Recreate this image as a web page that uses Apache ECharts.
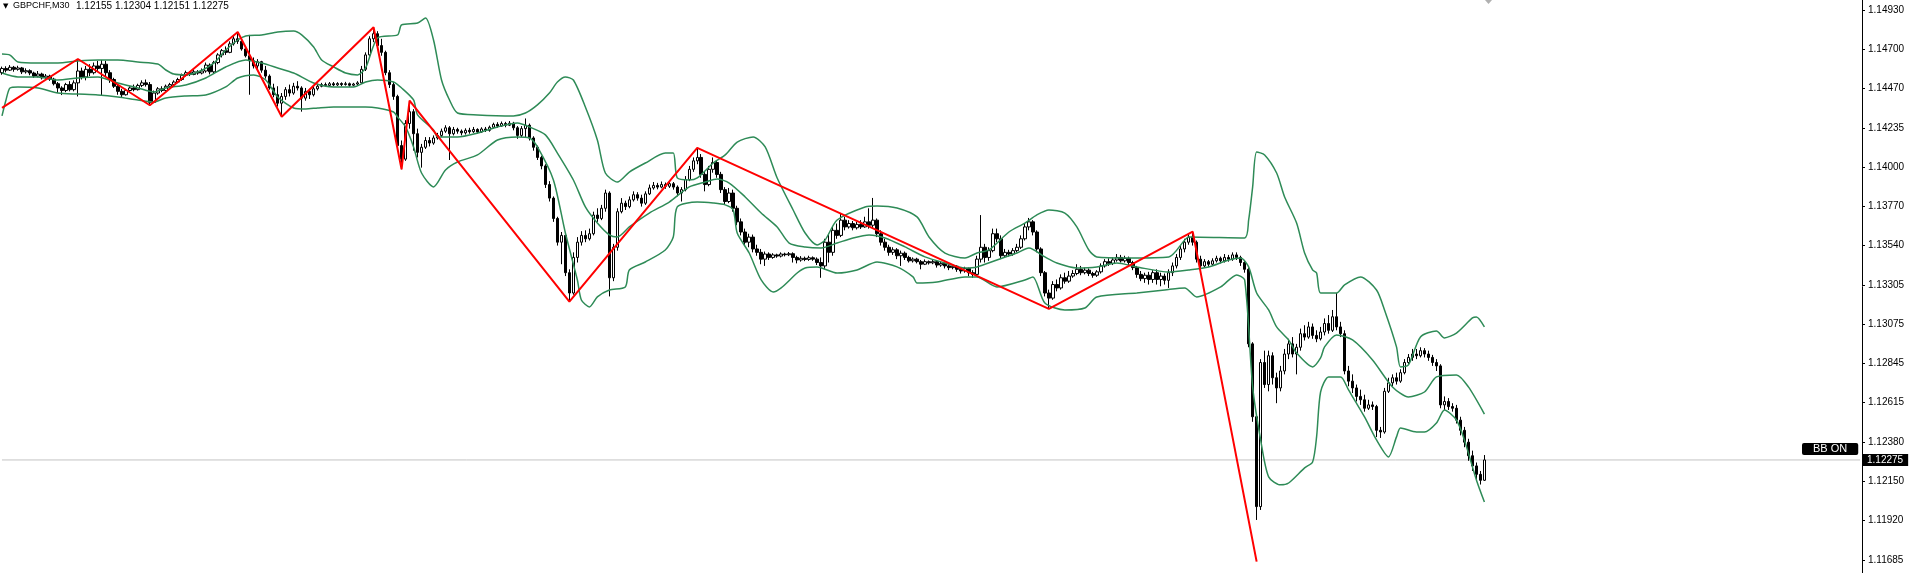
<!DOCTYPE html>
<html>
<head>
<meta charset="utf-8">
<script src="https://cdn.jsdelivr.net/npm/echarts@6/dist/echarts.min.js"></script>
<style>
html,body{margin:0;padding:0;background:#fff;}
#chart{width:1912px;height:573px;}
</style>
</head>
<body>
<div id="chart"></div>
<script>
// ---------- data ----------
const headerSymbol = 'GBPCHF,M30';
const headerOHLC = '1.12155 1.12304 1.12151 1.12275';
const lastPrice = 1.12275;
const indicatorBadge = 'BB ON';
const slotCount = 466;
const tickValues = [1.11685, 1.11920, 1.12150, 1.12380, 1.12615, 1.12845, 1.13075, 1.13305, 1.13540, 1.13770, 1.14000, 1.14235, 1.14470, 1.14700, 1.14930];

// [open, close, low, high]
const candles = [
[1.14560,1.14585,1.14548,1.14596],[1.14585,1.14575,1.14562,1.14598],[1.14575,1.14592,1.14570,1.14605],[1.14592,1.14580,1.14566,1.14600],[1.14580,1.14588,1.14572,1.14601],
[1.14588,1.14565,1.14552,1.14594],[1.14565,1.14572,1.14555,1.14586],[1.14572,1.14558,1.14545,1.14580],[1.14558,1.14540,1.14530,1.14566],[1.14540,1.14552,1.14532,1.14570],
[1.14552,1.14530,1.14520,1.14560],[1.14530,1.14540,1.14518,1.14552],[1.14540,1.14522,1.14512,1.14548],[1.14522,1.14495,1.14485,1.14530],[1.14495,1.14470,1.14440,1.14505],
[1.14470,1.14455,1.14428,1.14480],[1.14455,1.14490,1.14445,1.14500],[1.14490,1.14460,1.14450,1.14510],[1.14460,1.14500,1.14450,1.14515],[1.14500,1.14570,1.14420,1.14641],
[1.14570,1.14535,1.14520,1.14590],[1.14535,1.14580,1.14515,1.14600],[1.14580,1.14560,1.14540,1.14610],[1.14560,1.14600,1.14550,1.14620],[1.14600,1.14585,1.14565,1.14630],
[1.14585,1.14610,1.14425,1.14635],[1.14610,1.14560,1.14540,1.14630],[1.14560,1.14520,1.14500,1.14575],[1.14520,1.14480,1.14470,1.14530],[1.14480,1.14450,1.14430,1.14490],
[1.14450,1.14430,1.14415,1.14465],[1.14430,1.14455,1.14425,1.14465],[1.14455,1.14470,1.14445,1.14480],[1.14470,1.14460,1.14450,1.14490],[1.14460,1.14485,1.14455,1.14495],
[1.14485,1.14500,1.14475,1.14515],[1.14500,1.14490,1.14478,1.14520],[1.14490,1.14385,1.14368,1.14505],[1.14385,1.14440,1.14380,1.14455],[1.14440,1.14465,1.14430,1.14475],
[1.14465,1.14455,1.14445,1.14480],[1.14455,1.14480,1.14450,1.14490],[1.14480,1.14490,1.14470,1.14500],[1.14490,1.14505,1.14485,1.14515],[1.14505,1.14520,1.14498,1.14530],
[1.14520,1.14545,1.14512,1.14555],[1.14545,1.14560,1.14538,1.14572],[1.14560,1.14550,1.14540,1.14570],[1.14550,1.14565,1.14545,1.14578],[1.14565,1.14558,1.14548,1.14575],
[1.14558,1.14570,1.14550,1.14585],[1.14570,1.14605,1.14560,1.14620],[1.14605,1.14565,1.14550,1.14615],[1.14565,1.14620,1.14555,1.14630],[1.14620,1.14665,1.14610,1.14675],
[1.14665,1.14690,1.14650,1.14700],[1.14690,1.14680,1.14665,1.14715],[1.14680,1.14730,1.14675,1.14745],[1.14730,1.14760,1.14720,1.14780],[1.14760,1.14745,1.14730,1.14800],
[1.14745,1.14700,1.14690,1.14760],[1.14700,1.14660,1.14650,1.14715],[1.14660,1.14630,1.14430,1.14783],[1.14630,1.14600,1.14585,1.14650],[1.14600,1.14625,1.14580,1.14640],
[1.14625,1.14575,1.14560,1.14630],[1.14575,1.14540,1.14525,1.14600],[1.14540,1.14470,1.14460,1.14550],[1.14470,1.14430,1.14415,1.14495],[1.14430,1.14380,1.14360,1.14480],
[1.14380,1.14420,1.14300,1.14440],[1.14420,1.14460,1.14400,1.14475],[1.14460,1.14440,1.14420,1.14490],[1.14440,1.14480,1.14430,1.14500],[1.14480,1.14470,1.14455,1.14510],
[1.14470,1.14410,1.14330,1.14480],[1.14410,1.14450,1.14395,1.14470],[1.14450,1.14430,1.14405,1.14465],[1.14430,1.14465,1.14420,1.14480],[1.14465,1.14480,1.14455,1.14495],
[1.14480,1.14490,1.14474,1.14500],[1.14490,1.14485,1.14478,1.14502],[1.14485,1.14495,1.14480,1.14505],[1.14495,1.14488,1.14480,1.14505],[1.14488,1.14496,1.14482,1.14504],
[1.14496,1.14490,1.14480,1.14503],[1.14490,1.14495,1.14484,1.14506],[1.14495,1.14486,1.14478,1.14502],[1.14486,1.14493,1.14480,1.14500],[1.14493,1.14500,1.14485,1.14510],
[1.14500,1.14580,1.14495,1.14600],[1.14580,1.14665,1.14570,1.14680],[1.14665,1.14760,1.14650,1.14775],[1.14760,1.14790,1.14740,1.14828],[1.14790,1.14720,1.14700,1.14805],
[1.14720,1.14680,1.14660,1.14760],[1.14680,1.14560,1.14545,1.14690],[1.14560,1.14490,1.14470,1.14575],[1.14490,1.14420,1.14400,1.14505],[1.14420,1.14130,1.14110,1.14430],
[1.14130,1.14050,1.13990,1.14160],[1.14050,1.14260,1.14040,1.14280],[1.14260,1.14330,1.14230,1.14395],[1.14330,1.14200,1.14100,1.14345],[1.14200,1.14090,1.14060,1.14230],
[1.14090,1.14120,1.14000,1.14140],[1.14120,1.14160,1.14110,1.14180],[1.14160,1.14145,1.14125,1.14180],[1.14145,1.14175,1.14135,1.14190],[1.14175,1.14190,1.14165,1.14205],
[1.14190,1.14215,1.14180,1.14230],[1.14215,1.14235,1.14205,1.14250],[1.14235,1.14200,1.14045,1.14245],[1.14200,1.14225,1.14190,1.14240],[1.14225,1.14215,1.14200,1.14235],
[1.14215,1.14205,1.14190,1.14225],[1.14205,1.14220,1.14195,1.14232],[1.14220,1.14212,1.14200,1.14235],[1.14212,1.14225,1.14205,1.14240],[1.14225,1.14210,1.14200,1.14232],
[1.14210,1.14228,1.14205,1.14238],[1.14228,1.14220,1.14210,1.14240],[1.14220,1.14238,1.14212,1.14248],[1.14238,1.14255,1.14230,1.14265],[1.14255,1.14245,1.14235,1.14268],
[1.14245,1.14260,1.14240,1.14272],[1.14260,1.14250,1.14238,1.14270],[1.14250,1.14262,1.14245,1.14275],[1.14262,1.14235,1.14220,1.14270],[1.14235,1.14190,1.14170,1.14245],
[1.14190,1.14230,1.14180,1.14245],[1.14230,1.14250,1.14175,1.14290],[1.14250,1.14175,1.14160,1.14260],[1.14175,1.14120,1.14100,1.14185],[1.14120,1.14060,1.14045,1.14130],
[1.14060,1.14010,1.13990,1.14070],[1.14010,1.13900,1.13880,1.14020],[1.13900,1.13820,1.13800,1.13920],[1.13820,1.13700,1.13680,1.13830],[1.13700,1.13560,1.13540,1.13710],
[1.13560,1.13600,1.13430,1.13620],[1.13600,1.13380,1.13360,1.13610],[1.13380,1.13260,1.13209,1.13400],[1.13260,1.13470,1.13250,1.13500],[1.13470,1.13560,1.13440,1.13590],
[1.13560,1.13600,1.13540,1.13625],[1.13600,1.13580,1.13560,1.13630],[1.13580,1.13610,1.13570,1.13640],[1.13610,1.13720,1.13600,1.13740],[1.13720,1.13700,1.13680,1.13760],
[1.13700,1.13760,1.13690,1.13780],[1.13760,1.13850,1.13740,1.13870],[1.13850,1.13350,1.13240,1.13860],[1.13350,1.13530,1.13330,1.13550],[1.13530,1.13740,1.13510,1.13760],
[1.13740,1.13790,1.13730,1.13820],[1.13790,1.13770,1.13750,1.13805],[1.13770,1.13810,1.13760,1.13830],[1.13810,1.13840,1.13800,1.13860],[1.13840,1.13820,1.13805,1.13855],
[1.13820,1.13790,1.13770,1.13840],[1.13790,1.13845,1.13780,1.13860],[1.13845,1.13880,1.13838,1.13900],[1.13880,1.13895,1.13870,1.13915],[1.13895,1.13885,1.13872,1.13910],
[1.13885,1.13900,1.13878,1.13918],[1.13900,1.13890,1.13875,1.13912],[1.13890,1.13905,1.13880,1.13920],[1.13905,1.13885,1.13870,1.13915],[1.13885,1.13850,1.13830,1.13895],
[1.13850,1.13870,1.13800,1.13885],[1.13870,1.13930,1.13860,1.13950],[1.13930,1.13990,1.13920,1.14010],[1.13990,1.14040,1.13975,1.14060],[1.14040,1.14060,1.14020,1.14116],
[1.14060,1.13960,1.13940,1.14080],[1.13960,1.13900,1.13860,1.13980],[1.13900,1.13990,1.13890,1.14010],[1.13990,1.14030,1.13970,1.14060],[1.14030,1.13960,1.13940,1.14040],
[1.13960,1.13870,1.13850,1.13975],[1.13870,1.13800,1.13780,1.13885],[1.13800,1.13850,1.13790,1.13880],[1.13850,1.13760,1.13740,1.13870],[1.13760,1.13680,1.13660,1.13775],
[1.13680,1.13620,1.13600,1.13700],[1.13620,1.13560,1.13540,1.13640],[1.13560,1.13590,1.13530,1.13610],[1.13590,1.13520,1.13500,1.13605],[1.13520,1.13500,1.13480,1.13545],
[1.13500,1.13460,1.13430,1.13520],[1.13460,1.13490,1.13420,1.13505],[1.13490,1.13470,1.13455,1.13500],[1.13470,1.13485,1.13462,1.13495],[1.13485,1.13478,1.13468,1.13492],
[1.13478,1.13490,1.13470,1.13500],[1.13490,1.13486,1.13476,1.13498],[1.13486,1.13492,1.13478,1.13502],[1.13492,1.13470,1.13440,1.13500],[1.13470,1.13455,1.13435,1.13480],
[1.13455,1.13465,1.13445,1.13478],[1.13465,1.13458,1.13448,1.13475],[1.13458,1.13468,1.13450,1.13480],[1.13468,1.13460,1.13450,1.13476],[1.13460,1.13440,1.13425,1.13470],
[1.13440,1.13420,1.13350,1.13470],[1.13420,1.13560,1.13400,1.13580],[1.13560,1.13500,1.13440,1.13610],[1.13500,1.13630,1.13480,1.13650],[1.13630,1.13600,1.13580,1.13670],
[1.13600,1.13690,1.13590,1.13732],[1.13690,1.13650,1.13630,1.13710],[1.13650,1.13670,1.13640,1.13690],[1.13670,1.13645,1.13630,1.13685],[1.13645,1.13665,1.13635,1.13680],
[1.13665,1.13650,1.13638,1.13690],[1.13650,1.13680,1.13645,1.13710],[1.13680,1.13660,1.13640,1.13760],[1.13660,1.13690,1.13640,1.13821],[1.13690,1.13610,1.13590,1.13700],
[1.13610,1.13560,1.13540,1.13630],[1.13560,1.13530,1.13510,1.13580],[1.13530,1.13500,1.13480,1.13545],[1.13500,1.13515,1.13485,1.13530],[1.13515,1.13480,1.13460,1.13525],
[1.13480,1.13495,1.13420,1.13510],[1.13495,1.13470,1.13455,1.13505],[1.13470,1.13450,1.13440,1.13480],[1.13450,1.13460,1.13440,1.13470],[1.13460,1.13445,1.13435,1.13468],
[1.13445,1.13430,1.13400,1.13455],[1.13430,1.13445,1.13425,1.13458],[1.13445,1.13438,1.13428,1.13452],[1.13438,1.13445,1.13430,1.13455],[1.13445,1.13425,1.13410,1.13450],
[1.13425,1.13435,1.13415,1.13448],[1.13435,1.13420,1.13405,1.13440],[1.13420,1.13410,1.13395,1.13430],[1.13410,1.13418,1.13400,1.13430],[1.13418,1.13400,1.13385,1.13425],
[1.13400,1.13390,1.13375,1.13410],[1.13390,1.13405,1.13380,1.13415],[1.13405,1.13380,1.13360,1.13410],[1.13380,1.13370,1.13350,1.13395],[1.13370,1.13460,1.13360,1.13480],
[1.13460,1.13530,1.13440,1.13720],[1.13530,1.13470,1.13440,1.13550],[1.13470,1.13510,1.13450,1.13530],[1.13510,1.13610,1.13500,1.13640],[1.13610,1.13580,1.13560,1.13640],
[1.13580,1.13480,1.13460,1.13600],[1.13480,1.13500,1.13470,1.13520],[1.13500,1.13490,1.13475,1.13515],[1.13490,1.13510,1.13480,1.13525],[1.13510,1.13530,1.13500,1.13550],
[1.13530,1.13580,1.13520,1.13600],[1.13580,1.13650,1.13570,1.13670],[1.13650,1.13680,1.13630,1.13703],[1.13680,1.13620,1.13600,1.13690],[1.13620,1.13520,1.13500,1.13630],
[1.13520,1.13380,1.13360,1.13530],[1.13380,1.13260,1.13240,1.13390],[1.13260,1.13230,1.13166,1.13280],[1.13230,1.13310,1.13220,1.13330],[1.13310,1.13290,1.13270,1.13340],
[1.13290,1.13350,1.13280,1.13370],[1.13350,1.13330,1.13315,1.13380],[1.13330,1.13360,1.13320,1.13390],[1.13360,1.13375,1.13350,1.13395],[1.13375,1.13400,1.13365,1.13430],
[1.13400,1.13380,1.13365,1.13420],[1.13380,1.13395,1.13370,1.13410],[1.13395,1.13375,1.13360,1.13405],[1.13375,1.13365,1.13350,1.13385],[1.13365,1.13385,1.13355,1.13395],
[1.13385,1.13420,1.13375,1.13435],[1.13420,1.13445,1.13410,1.13460],[1.13445,1.13435,1.13420,1.13465],[1.13435,1.13455,1.13425,1.13470],[1.13455,1.13470,1.13445,1.13490],
[1.13470,1.13450,1.13440,1.13485],[1.13450,1.13465,1.13440,1.13480],[1.13465,1.13440,1.13420,1.13475],[1.13440,1.13410,1.13395,1.13450],[1.13410,1.13370,1.13350,1.13420],
[1.13370,1.13345,1.13330,1.13390],[1.13345,1.13365,1.13320,1.13380],[1.13365,1.13340,1.13310,1.13385],[1.13340,1.13380,1.13320,1.13395],[1.13380,1.13340,1.13310,1.13400],
[1.13340,1.13360,1.13300,1.13380],[1.13360,1.13335,1.13310,1.13375],[1.13335,1.13380,1.13290,1.13400],[1.13380,1.13420,1.13360,1.13440],[1.13420,1.13470,1.13405,1.13490],
[1.13470,1.13520,1.13455,1.13540],[1.13520,1.13560,1.13500,1.13580],[1.13560,1.13590,1.13545,1.13610],[1.13590,1.13560,1.13540,1.13622],[1.13560,1.13460,1.13440,1.13570],
[1.13460,1.13420,1.13400,1.13480],[1.13420,1.13445,1.13410,1.13460],[1.13445,1.13430,1.13415,1.13455],[1.13430,1.13450,1.13420,1.13465],[1.13450,1.13465,1.13440,1.13480],
[1.13465,1.13450,1.13435,1.13475],[1.13450,1.13470,1.13440,1.13490],[1.13470,1.13460,1.13445,1.13485],[1.13460,1.13485,1.13450,1.13500],[1.13485,1.13470,1.13455,1.13500],
[1.13470,1.13440,1.13420,1.13480],[1.13440,1.13400,1.13380,1.13450],[1.13400,1.12960,1.12940,1.13410],[1.12960,1.12530,1.12500,1.12970],[1.12530,1.12000,1.11921,1.12540],
[1.12000,1.12850,1.11980,1.12870],[1.12850,1.12720,1.12700,1.12920],[1.12720,1.12890,1.12680,1.12920],[1.12890,1.12760,1.12720,1.12910],[1.12760,1.12700,1.12610,1.12790],
[1.12700,1.12800,1.12680,1.12830],[1.12800,1.12900,1.12780,1.12930],[1.12900,1.12960,1.12870,1.12990],[1.12960,1.12900,1.12880,1.13000],[1.12900,1.12940,1.12780,1.12960],
[1.12940,1.13020,1.12920,1.13050],[1.13020,1.13000,1.12980,1.13070],[1.13000,1.13060,1.12990,1.13090],[1.13060,1.13010,1.12990,1.13080],[1.13010,1.12990,1.12970,1.13040],
[1.12990,1.13030,1.12980,1.13060],[1.13030,1.13080,1.13010,1.13110],[1.13080,1.13040,1.13020,1.13130],[1.13040,1.13120,1.13030,1.13160],[1.13120,1.13060,1.13040,1.13260],
[1.13060,1.13020,1.13000,1.13090],[1.13020,1.12800,1.12780,1.13040],[1.12800,1.12740,1.12710,1.12830],[1.12740,1.12700,1.12670,1.12780],[1.12700,1.12650,1.12620,1.12720],
[1.12650,1.12630,1.12600,1.12690],[1.12630,1.12580,1.12560,1.12660],[1.12580,1.12600,1.12570,1.12630],[1.12600,1.12590,1.12570,1.12620],[1.12590,1.12450,1.12410,1.12600],
[1.12450,1.12440,1.12405,1.12470],[1.12440,1.12680,1.12430,1.12700],[1.12680,1.12730,1.12670,1.12760],[1.12730,1.12760,1.12710,1.12780],[1.12760,1.12740,1.12720,1.12790],
[1.12740,1.12790,1.12730,1.12810],[1.12790,1.12850,1.12780,1.12870],[1.12850,1.12880,1.12840,1.12900],[1.12880,1.12900,1.12860,1.12930],[1.12900,1.12890,1.12870,1.12930],
[1.12890,1.12920,1.12880,1.12940],[1.12920,1.12900,1.12880,1.12935],[1.12900,1.12880,1.12860,1.12920],[1.12880,1.12850,1.12830,1.12895],[1.12850,1.12830,1.12800,1.12870],
[1.12830,1.12600,1.12580,1.12840],[1.12600,1.12620,1.12570,1.12650],[1.12620,1.12590,1.12570,1.12640],[1.12590,1.12580,1.12560,1.12610],[1.12580,1.12510,1.12490,1.12600],
[1.12510,1.12450,1.12420,1.12530],[1.12450,1.12380,1.12350,1.12470],[1.12380,1.12300,1.12270,1.12400],[1.12300,1.12240,1.12210,1.12330],[1.12240,1.12190,1.12150,1.12260],
[1.12190,1.12155,1.12130,1.12210],[1.12155,1.12275,1.12151,1.12304]
];

// Bollinger Bands: [bar index, price]
const bbUpper = [
[0,1.14670],[2,1.14664],[4,1.14623],[9,1.14617],[14,1.14617],[19,1.14629],[24,1.14635],[29,1.14635],[34,1.14623],[39,1.14611],
[41,1.14576],[43,1.14552],[46,1.14547],[49,1.14564],[53,1.14617],[56,1.14694],[59,1.14753],[61,1.14777],[65,1.14783],[69,1.14800],
[73,1.14806],[75,1.14783],[78,1.14712],[80,1.14635],[83,1.14594],[86,1.14558],[89,1.14547],[91,1.14588],[94,1.14765],[99,1.14783],
[100,1.14842],[104,1.14853],[106,1.14883],[108,1.14753],[110,1.14517],[112,1.14399],[114,1.14322],[119,1.14311],[128,1.14305],[131,1.14322],
[134,1.14370],[137,1.14440],[139,1.14505],[141,1.14535],[143,1.14517],[146,1.14358],[149,1.14163],[151,1.13968],[154,1.13915],[157,1.13974],
[161,1.14027],[166,1.14086],[168,1.14086],[169,1.13939],[172,1.13927],[174,1.13939],[178,1.14027],[181,1.14075],[184,1.14151],[188,1.14181],
[191,1.14122],[194,1.13939],[198,1.13750],[201,1.13614],[204,1.13544],[206,1.13573],[209,1.13691],[216,1.13768],[219,1.13774],[224,1.13762],
[229,1.13709],[232,1.13591],[236,1.13496],[241,1.13467],[244,1.13496],[247,1.13514],[252,1.13620],[256,1.13673],[259,1.13721],[262,1.13750],
[266,1.13732],[269,1.13650],[272,1.13514],[274,1.13473],[282,1.13467],[292,1.13473],[296,1.13573],[297,1.13591],[311,1.13585],[312,1.13691],
[313,1.13886],[314,1.14092],[316,1.14075],[319,1.13968],[321,1.13827],[324,1.13673],[326,1.13496],[328,1.13396],[329,1.13378],[330,1.13260],
[334,1.13260],[336,1.13308],[340,1.13355],[344,1.13278],[346,1.13160],[349,1.12942],[350,1.12824],[352,1.12836],[355,1.13001],[359,1.13036],
[361,1.12995],[364,1.13024],[368,1.13113],[369,1.13119],[371,1.13060]
];
const bbMiddle = [
[0,1.14558],[4,1.14535],[9,1.14535],[14,1.14517],[19,1.14529],[24,1.14535],[29,1.14499],[34,1.14470],[38,1.14446],[41,1.14470],
[46,1.14488],[51,1.14529],[56,1.14594],[61,1.14635],[65,1.14617],[69,1.14588],[73,1.14558],[78,1.14499],[83,1.14476],[88,1.14476],
[91,1.14505],[94,1.14517],[98,1.14505],[100,1.14470],[103,1.14399],[104,1.14311],[108,1.14222],[109,1.14181],[114,1.14181],[119,1.14204],
[124,1.14240],[129,1.14263],[132,1.14240],[136,1.14193],[139,1.14086],[143,1.13927],[146,1.13768],[149,1.13673],[152,1.13603],[154,1.13591],
[157,1.13650],[162,1.13732],[167,1.13797],[172,1.13886],[176,1.13915],[179,1.13933],[182,1.13909],[186,1.13827],[190,1.13732],[194,1.13650],
[197,1.13555],[201,1.13532],[205,1.13526],[209,1.13555],[213,1.13585],[217,1.13603],[221,1.13585],[226,1.13532],[231,1.13473],[236,1.13437],
[241,1.13408],[244,1.13414],[249,1.13455],[254,1.13496],[257,1.13526],[261,1.13473],[264,1.13437],[269,1.13408],[274,1.13414],[279,1.13437],
[284,1.13414],[292,1.13384],[297,1.13396],[302,1.13414],[307,1.13455],[310,1.13467],[312,1.13414],[314,1.13260],[317,1.13160],[319,1.13060],
[322,1.12983],[324,1.12906],[328,1.12824],[330,1.12877],[331,1.12942],[334,1.13013],[338,1.12983],[343,1.12865],[348,1.12706],[352,1.12647],
[356,1.12676],[359,1.12765],[364,1.12777],[367,1.12706],[371,1.12546]
];
const bbLower = [
[0,1.14305],[1,1.14399],[2,1.14470],[4,1.14476],[9,1.14470],[14,1.14440],[19,1.14434],[24,1.14429],[29,1.14417],[34,1.14399],
[38,1.14387],[41,1.14411],[46,1.14423],[51,1.14429],[56,1.14476],[59,1.14529],[63,1.14547],[66,1.14517],[69,1.14417],[73,1.14352],
[76,1.14346],[79,1.14352],[83,1.14358],[88,1.14358],[91,1.14358],[94,1.14352],[98,1.14328],[99,1.14299],[101,1.14240],[103,1.14122],
[105,1.13968],[108,1.13886],[111,1.13986],[114,1.14033],[119,1.14075],[124,1.14163],[129,1.14181],[132,1.14175],[134,1.14122],[138,1.13927],
[141,1.13614],[144,1.13337],[145,1.13219],[147,1.13178],[149,1.13237],[152,1.13278],[156,1.13296],[157,1.13396],[161,1.13443],[166,1.13514],
[168,1.13591],[169,1.13768],[174,1.13797],[178,1.13791],[181,1.13780],[183,1.13750],[184,1.13614],[187,1.13496],[190,1.13337],[193,1.13266],
[195,1.13290],[199,1.13378],[201,1.13408],[204,1.13414],[209,1.13378],[214,1.13396],[219,1.13443],[224,1.13414],[228,1.13355],[229,1.13319],
[234,1.13325],[241,1.13355],[244,1.13355],[249,1.13296],[256,1.13337],[258,1.13355],[261,1.13201],[266,1.13160],[271,1.13172],[274,1.13237],
[284,1.13260],[291,1.13278],[296,1.13290],[299,1.13237],[305,1.13296],[309,1.13367],[311,1.13337],[313,1.12706],[315,1.12393],[317,1.12175],
[320,1.12128],[322,1.12139],[326,1.12228],[328,1.12263],[329,1.12411],[330,1.12676],[332,1.12765],[335,1.12765],[337,1.12688],[341,1.12529],
[344,1.12393],[347,1.12293],[349,1.12411],[350,1.12464],[354,1.12440],[356,1.12440],[359,1.12493],[361,1.12570],[364,1.12511],[366,1.12393],
[369,1.12157],[371,1.12027]
];

// ZigZag pivots: [bar index, price]
const zigzag = [
[0,1.14352],[19,1.14641],[37,1.14368],[59,1.14800],[70,1.14300],[93,1.14828],[100,1.13990],
[102,1.14395],[142,1.13209],[174,1.14116],[262,1.13166],[298,1.13622],[314,1.11675]
];

// ---------- chart ----------
const categories = Array.from({length: slotCount}, (_, i) => String(i));
const chart = echarts.init(document.getElementById('chart'), null, {renderer: 'canvas'});
const FONT = '"Liberation Sans", Arial, sans-serif';
const yMin = 1.11608, yMax = 1.14989;

chart.setOption({
  animation: false,
  backgroundColor: '#ffffff',
  grid: {left: 0, right: 50, top: 0, bottom: 0, containLabel: false},
  xAxis: {
    type: 'category', data: categories, boundaryGap: true, show: false
  },
  yAxis: [{
    type: 'value', position: 'right', scale: true,
    min: yMin, max: yMax,
    axisLine: {show: true, lineStyle: {color: '#000', width: 1}},
    axisTick: {show: true, length: 3, lineStyle: {color: '#000'}, customValues: tickValues},
    axisLabel: {
      show: true, color: '#000', fontSize: 10, fontFamily: FONT, margin: 6,
      customValues: tickValues,
      formatter: v => Number(v).toFixed(5)
    },
    splitLine: {show: false}
  }, {
    type: 'value', position: 'right', scale: true,
    min: yMin, max: yMax,
    axisLine: {show: false}, axisTick: {show: false}, splitLine: {show: false},
    axisLabel: {
      show: true, customValues: [lastPrice], margin: 0,
      formatter: v => Number(v).toFixed(5),
      color: '#fff', backgroundColor: '#000', fontSize: 10, fontFamily: FONT,
      padding: [1, 5, 1, 5], lineHeight: 10
    }
  }],
  series: [
    {
      type: 'line', data: [[0, lastPrice], [slotCount - 1, lastPrice]], symbol: 'none', z: 1, silent: true,
      lineStyle: {color: '#c4c4c4', width: 1}
    },
    {
      type: 'candlestick', data: candles, barWidth: 3, z: 2,
      itemStyle: {color: '#ffffff', color0: '#000000', borderColor: '#000000', borderColor0: '#000000', borderWidth: 1}
    },
    {type: 'line', data: bbUpper, symbol: 'none', smooth: 0.25, z: 3, lineStyle: {color: '#2e8b57', width: 1.5}},
    {type: 'line', data: bbMiddle, symbol: 'none', smooth: 0.25, z: 3, lineStyle: {color: '#2e8b57', width: 1.5}},
    {type: 'line', data: bbLower, symbol: 'none', smooth: 0.25, z: 3, lineStyle: {color: '#2e8b57', width: 1.5}},
    {type: 'line', data: zigzag, symbol: 'none', smooth: false, z: 4, lineStyle: {color: '#ff0000', width: 2}}
  ],
  graphic: {
    elements: [
      {type: 'text', x: 3, y: 3, silent: true, style: {text: '\u25BC', fill: '#000', font: '7px "DejaVu Sans", sans-serif'}},
      {type: 'text', x: 13, y: 1, silent: true, style: {text: headerSymbol, fill: '#000', font: '9px ' + FONT}},
      {type: 'text', x: 76, y: 1, silent: true, style: {text: headerOHLC, fill: '#000', font: '10px ' + FONT}},
      {type: 'polygon', silent: true, shape: {points: [[1485, 0], [1492, 0], [1488.5, 4]]}, style: {fill: '#b0b0b0'}},
      {type: 'text', x: 1802, y: 443, silent: true, z: 10,
        style: {text: indicatorBadge, fill: '#fff', backgroundColor: '#000', borderRadius: 2,
          padding: [0, 11, 0, 11], lineHeight: 12, font: '11px ' + FONT}}
    ]
  }
});
</script>
</body>
</html>
